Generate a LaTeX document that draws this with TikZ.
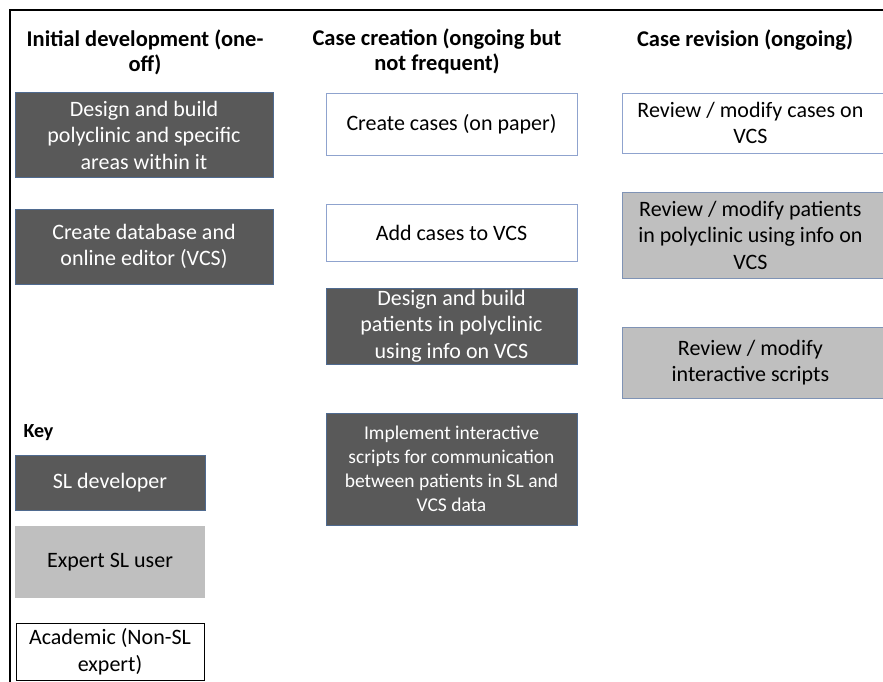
\documentclass[tikz,border=0pt]{standalone}
\usepackage{fontspec}
\setmainfont{Carlito}
\usetikzlibrary{positioning}
\definecolor{devgray}{RGB}{89,89,89}
\definecolor{devline}{RGB}{79,106,143}
\definecolor{expgray}{RGB}{191,191,191}
\definecolor{expline}{RGB}{127,147,181}
\definecolor{acline}{RGB}{143,163,206}
\tikzset{box/.style={rectangle,align=center,inner sep=2pt,line width=0.8pt,font=\fontsize{22}{26.5}\selectfont}}
\tikzset{devbox/.style={box,fill=devgray,draw=devline,text=white}}
\tikzset{expbox/.style={box,fill=expgray,draw=expline,text=black}}
\tikzset{acbox/.style={box,fill=white,draw=acline,text=black}}
\tikzset{hdr/.style={align=center,font=\fontsize{22.5}{25}\selectfont\bfseries}}

\begin{document}
\begin{tikzpicture}[x=1pt,y=-1pt]
\useasboundingbox (0,0) rectangle (883,682);
\clip (0,0) rectangle (883,682);
\draw[line width=1.2pt] (10,682) -- (10,10) -- (883,10);

\node[hdr] (h1) at (145,52) {Initial development (one-\\off)};
\node[hdr] (h2) at (437,51) {Case creation (ongoing but\\not frequent)};
\node[hdr] (h3) at (745,40) {Case revision (ongoing)};

\node[devbox,minimum width=258pt,minimum height=85pt] (build) at (144,135) {Design and build\\polyclinic and specific\\areas within it};
\node[devbox,minimum width=258pt,minimum height=75pt] (db) at (144,246.5) {Create database and\\online editor (VCS)};

\node[acbox,minimum width=251pt,minimum height=62pt] (paper) at (451.5,124) {Create cases (on paper)};
\node[acbox,minimum width=251pt,minimum height=57pt] (add) at (451.5,232.5) {Add cases to VCS};
\node[devbox,minimum width=251pt,minimum height=74pt] (patients) at (451.5,326) {Design and build\\patients in polyclinic\\using info on VCS};
\node[devbox,minimum width=251pt,minimum height=112pt,font=\fontsize{19.5}{24}\selectfont] (scripts) at (451.5,469) {Implement interactive\\scripts for communication\\between patients in SL and\\VCS data};

\node[acbox,minimum width=278pt,minimum height=60pt,anchor=west] (revcases) at (622,123) {\hspace*{-22pt}Review / modify cases on\\\hspace*{-22pt}VCS};
\node[expbox,minimum width=278pt,minimum height=86pt,anchor=west] (revpat) at (622,235) {\hspace*{-22pt}Review / modify patients\\\hspace*{-22pt}in polyclinic using info on\\\hspace*{-22pt}VCS};
\node[expbox,minimum width=278pt,minimum height=71pt,anchor=west] (revscr) at (622,362.5) {\hspace*{-22pt}Review / modify\\\hspace*{-22pt}interactive scripts};

\node[anchor=west,font=\fontsize{20}{22}\selectfont\bfseries] (key) at (20,433) {Key};
\node[devbox,minimum width=190pt,minimum height=55pt] (kdev) at (110,482.5) {SL developer};
\node[expbox,draw=none,minimum width=190pt,minimum height=72pt] (kexp) at (110,562) {Expert SL user};
\node[acbox,draw=black,minimum width=188pt,minimum height=57pt] (kac) at (110,651.5) {Academic (Non-SL\\expert)};
\end{tikzpicture}
\end{document}
